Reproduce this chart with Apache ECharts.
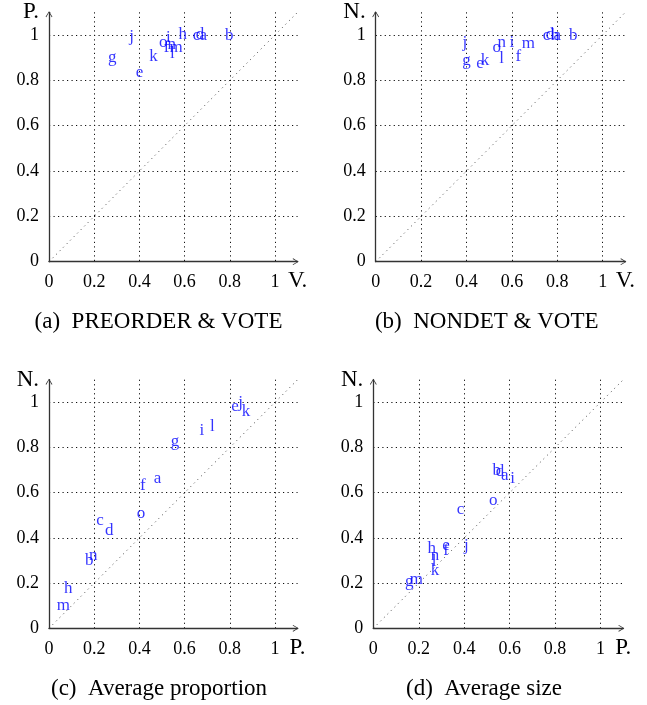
<!DOCTYPE html>
<html>
<head>
<meta charset="utf-8">
<script src="https://cdn.jsdelivr.net/npm/echarts@6/dist/echarts.min.js"></script>
<style>
html,body{margin:0;padding:0;background:#fff;}
#chart{width:647px;height:705px;}
</style>
</head>
<body>
<div id="chart"></div>
<script>
// ---------- data ----------
const letters = ['a','b','c','d','e','f','g','h','i','j','k','l','m','n','o'];

// (a) PREORDER & VOTE : x = V., y = P.
const preorderVoteX = [0.683,0.798,0.653,0.668,0.400,0.520,0.280,0.592,0.528,0.366,0.462,0.546,0.562,0.543,0.506];
const preorderVoteY = [0.990,0.990,0.990,0.995,0.828,0.940,0.893,0.995,0.980,0.985,0.897,0.910,0.940,0.950,0.960];

// (b) NONDET & VOTE : x = V., y = N.
const nondetVoteX = [0.800,0.870,0.753,0.768,0.460,0.628,0.400,0.790,0.600,0.393,0.482,0.555,0.672,0.555,0.533];
const nondetVoteY = [0.990,0.990,0.990,0.995,0.868,0.897,0.882,0.990,0.960,0.960,0.882,0.890,0.956,0.960,0.940];

// (c) Average proportion : x = P., y = N.
const propX = [0.480,0.178,0.226,0.267,0.823,0.415,0.558,0.085,0.676,0.848,0.872,0.723,0.063,0.196,0.407];
const propY = [0.656,0.295,0.469,0.425,0.973,0.627,0.818,0.170,0.870,0.992,0.951,0.885,0.096,0.317,0.500];

// (d) Average size : x = P., y = N.
const sizeX = [0.579,0.543,0.384,0.557,0.320,0.320,0.158,0.257,0.613,0.410,0.271,0.268,0.190,0.271,0.528];
const sizeY = [0.671,0.693,0.519,0.686,0.358,0.339,0.199,0.346,0.656,0.358,0.250,0.288,0.210,0.317,0.560];

const diagonal = [[0,0],[1.1,1.1]];
const axisMin = 0, axisMax = 1.1, tickStep = 0.2;

const captions = ['(a)\u2002PREORDER & VOTE','(b)\u2002NONDET & VOTE','(c)\u2002Average proportion','(d)\u2002Average size'];
const xNames = ['V.','V.','P.','P.'];
const yNames = ['P.','N.','N.','N.'];

// ---------- layout ----------
const grids = [
  {left:49,    top:12.3,  width:248.6, height:249.4},
  {left:375.7, top:12.3,  width:249.7, height:249.4},
  {left:49,    top:379.7, width:248.6, height:248.6},
  {left:373.3, top:379.7, width:250,   height:248.6}
];
const captionPos = [[158.5,310.5],[486.7,310.5],[159,677],[484,677]];

const serif = '"Liberation Serif", "Times New Roman", serif';
const arrowPath = 'path://M5,0 L10,8 L9,8.8 L5,1.8 L1,8.8 L0,8 Z';

function mkAxis(kind, i){
  const isX = kind === 'x';
  return {
    type:'value', gridIndex:i, min:axisMin, max:axisMax, interval:tickStep,
    name: isX ? xNames[i] : yNames[i],
    nameLocation:'end', nameGap: 0,
    nameTextStyle: isX
      ? {fontFamily:serif, fontSize:23, color:'#000', align:'center', verticalAlign:'top', padding:[8,0,0,0]}
      : {fontFamily:serif, fontSize:23, color:'#000', align:'right', verticalAlign:'middle', padding:[0,10,0,0]},
    axisLine:{show:true, onZero:false, symbol:['none', arrowPath], symbolSize:[8,6], symbolOffset:[0,-2],
              lineStyle:{color:'#333', width:1.3}},
    axisTick:{show:false},
    axisLabel:{show:true, showMaxLabel:false, margin: isX ? 12 : 10,
               fontFamily:serif, fontSize:18, color:'#000',
               formatter: v => (v > 1.05 ? '' : String(+v.toFixed(1)))},
    splitLine:{show:true, showMinLine:false, showMaxLine:false,
               lineStyle:{type:[1.2,3.3], color:'#111', width:1}}
  };
}

const panels = [[preorderVoteX,preorderVoteY],[nondetVoteX,nondetVoteY],[propX,propY],[sizeX,sizeY]];

const series = [];
panels.forEach((p,i)=>{
  series.push({
    type:'line', xAxisIndex:i, yAxisIndex:i, data:diagonal, showSymbol:false, silent:true,
    lineStyle:{type:[1,4], color:'#444', width:1}, z:1
  });
  series.push({
    type:'scatter', xAxisIndex:i, yAxisIndex:i, silent:true,
    data: letters.map((l,k)=>[p[0][k], p[1][k], l]),
    symbolSize:1, itemStyle:{color:'rgba(0,0,0,0)'},
    label:{show:true, position:'inside', offset:[0,-1.5], formatter: d => d.data[2],
           fontFamily:serif, fontSize:17, color:'#0000ff'},
    z:5
  });
});

const option = {
  animation:false,
  backgroundColor:'#fff',
  title: captions.map((t,i)=>({
    text:t, left:captionPos[i][0], top:captionPos[i][1], textAlign:'center', padding:0,
    textStyle:{fontFamily:serif, fontSize:23, fontWeight:'normal', color:'#000'}
  })),
  grid: grids.map(g=>Object.assign({containLabel:false}, g)),
  xAxis: grids.map((g,i)=>mkAxis('x',i)),
  yAxis: grids.map((g,i)=>mkAxis('y',i)),
  series: series
};

const chart = echarts.init(document.getElementById('chart'), null, {renderer:'canvas'});
chart.setOption(option);
</script>
</body>
</html>
